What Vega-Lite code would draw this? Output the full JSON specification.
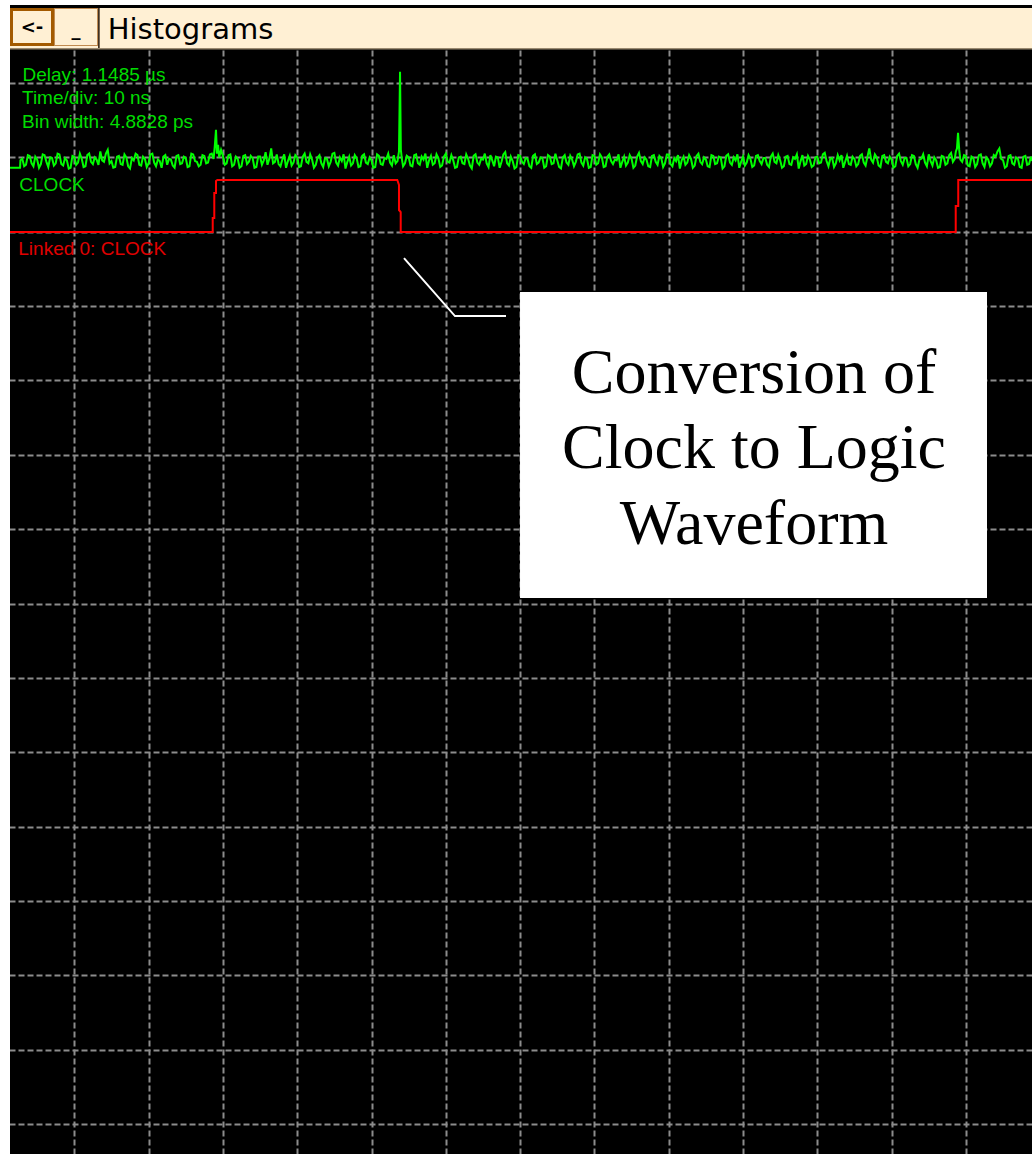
{
  "$schema": "https://vega.github.io/schema/vega-lite/v6.json",
  "width": 1032,
  "height": 1154,
  "autosize": {"type": "none"},
  "padding": 0,
  "background": "#ffffff",
  "config": {"view": {"fill": "#000000", "stroke": null}},
  "datasets": {
    "chrome": [
      {"part": "margin", "t": 0, "t2": 1.346, "v": -0.1162, "v2": 15.4026},
      {"part": "top", "t": 0, "t2": 138.896, "v": -0.1162, "v2": -0.049},
      {"part": "edge", "t": 1.346, "t2": 138.896, "v": -0.049, "v2": -0.0086},
      {"part": "bar", "t": 1.346, "t2": 138.896, "v": -0.0086, "v2": 0.5293},
      {"part": "barline", "t": 1.346, "t2": 138.896, "v": 0.5293, "v2": 0.5495},
      {"part": "btn1", "t": 1.346, "t2": 7.268, "v": -0.0086, "v2": 0.502},
      {"part": "btn1face", "t": 1.75, "t2": 6.864, "v": 0.0317, "v2": 0.462},
      {"part": "btn2", "t": 7.268, "t2": 13.19, "v": -0.0086, "v2": 0.502},
      {"part": "btn2face", "t": 7.4, "t2": 13.06, "v": 0.0048, "v2": 0.489},
      {"part": "sep", "t": 13.19, "t2": 13.42, "v": -0.0086, "v2": 0.5293}
    ],
    "green": [
      {"t": 1.35, "v": 2.14}, {"t": 2.7, "v": 2.14}, {"t": 2.75, "v": 2.04},
      {"t": 3, "v": 2.02}, {"t": 3.25, "v": 2.12}, {"t": 3.5, "v": 2.10}, {"t": 3.75, "v": 1.97}, {"t": 4, "v": 1.98}, {"t": 4.25, "v": 2.08}, {"t": 4.5, "v": 2.12}, {"t": 4.75, "v": 1.99}, {"t": 5, "v": 2.03}, {"t": 5.25, "v": 2.14}, {"t": 5.5, "v": 2.09}, {"t": 5.75, "v": 1.96}, {"t": 6, "v": 1.97}, {"t": 6.25, "v": 2.06}, {"t": 6.5, "v": 2.13}, {"t": 6.75, "v": 2.00}, {"t": 7, "v": 2.01}, {"t": 7.25, "v": 2.11}, {"t": 7.5, "v": 2.08}, {"t": 7.75, "v": 1.95},
      {"t": 8, "v": 1.96}, {"t": 8.25, "v": 2.09}, {"t": 8.5, "v": 2.11}, {"t": 8.75, "v": 2.01}, {"t": 9, "v": 2.04}, {"t": 9.25, "v": 2.15}, {"t": 9.5, "v": 2.14}, {"t": 9.75, "v": 1.98}, {"t": 10, "v": 1.99}, {"t": 10.25, "v": 2.10}, {"t": 10.5, "v": 2.07}, {"t": 10.75, "v": 1.95}, {"t": 11, "v": 2.02}, {"t": 11.25, "v": 2.13}, {"t": 11.5, "v": 2.12}, {"t": 11.75, "v": 1.97}, {"t": 12, "v": 1.95}, {"t": 12.25, "v": 2.06}, {"t": 12.5, "v": 2.09}, {"t": 12.75, "v": 2.00},
      {"t": 13, "v": 2.03}, {"t": 13.25, "v": 2.10}, {"t": 13.5, "v": 1.92}, {"t": 13.75, "v": 2.04}, {"t": 14, "v": 2.06}, {"t": 14.25, "v": 1.95}, {"t": 14.5, "v": 1.90}, {"t": 14.75, "v": 2.08}, {"t": 15, "v": 2.05}, {"t": 15.25, "v": 2.14}, {"t": 15.5, "v": 2.13}, {"t": 15.75, "v": 1.99}, {"t": 16, "v": 1.98}, {"t": 16.25, "v": 2.09}, {"t": 16.5, "v": 2.10}, {"t": 16.75, "v": 1.96}, {"t": 17, "v": 2.00}, {"t": 17.25, "v": 2.12}, {"t": 17.5, "v": 2.15}, {"t": 17.75, "v": 2.01},
      {"t": 18, "v": 2.04}, {"t": 18.25, "v": 1.95}, {"t": 18.5, "v": 1.97}, {"t": 18.75, "v": 2.10}, {"t": 19, "v": 2.11}, {"t": 19.25, "v": 1.99}, {"t": 19.5, "v": 2.02}, {"t": 19.75, "v": 2.13}, {"t": 20, "v": 2.08}, {"t": 20.25, "v": 1.96}, {"t": 20.5, "v": 1.95}, {"t": 20.75, "v": 2.07}, {"t": 21, "v": 2.12}, {"t": 21.25, "v": 2.03}, {"t": 21.5, "v": 2.05}, {"t": 21.75, "v": 2.14}, {"t": 22, "v": 1.99}, {"t": 22.25, "v": 1.97}, {"t": 22.5, "v": 2.10}, {"t": 22.75, "v": 2.02},
      {"t": 23, "v": 2.03}, {"t": 23.25, "v": 2.11}, {"t": 23.5, "v": 2.14}, {"t": 23.75, "v": 1.98}, {"t": 24, "v": 1.97}, {"t": 24.25, "v": 2.09}, {"t": 24.5, "v": 2.08}, {"t": 24.75, "v": 1.99}, {"t": 25, "v": 2.01}, {"t": 25.25, "v": 2.13}, {"t": 25.5, "v": 2.12}, {"t": 25.75, "v": 1.95}, {"t": 26, "v": 1.96}, {"t": 26.25, "v": 2.05}, {"t": 26.5, "v": 2.06}, {"t": 26.75, "v": 2.12}, {"t": 27, "v": 2.10}, {"t": 27.25, "v": 1.97}, {"t": 27.5, "v": 1.98}, {"t": 27.75, "v": 2.08},
      {"t": 28, "v": 2.07}, {"t": 28.25, "v": 1.96}, {"t": 28.5, "v": 1.95}, {"t": 28.75, "v": 2.02}, {"t": 28.9, "v": 1.86}, {"t": 29.07, "v": 1.63}, {"t": 29.2, "v": 1.95}, {"t": 29.35, "v": 1.83}, {"t": 29.5, "v": 2.00}, {"t": 29.75, "v": 1.90}, {"t": 30, "v": 1.98}, {"t": 30.25, "v": 2.10}, {"t": 30.5, "v": 2.08}, {"t": 30.75, "v": 1.97}, {"t": 31, "v": 1.96}, {"t": 31.25, "v": 2.12}, {"t": 31.5, "v": 2.10}, {"t": 31.75, "v": 1.99}, {"t": 32, "v": 2.02}, {"t": 32.25, "v": 2.14}, {"t": 32.5, "v": 2.12}, {"t": 32.75, "v": 1.98},
      {"t": 33, "v": 1.97}, {"t": 33.25, "v": 2.09}, {"t": 33.5, "v": 2.06}, {"t": 33.75, "v": 1.98}, {"t": 34, "v": 2.01}, {"t": 34.25, "v": 2.14}, {"t": 34.5, "v": 2.13}, {"t": 34.75, "v": 1.99}, {"t": 35, "v": 1.99}, {"t": 35.25, "v": 2.10}, {"t": 35.5, "v": 2.04}, {"t": 35.75, "v": 1.93}, {"t": 36, "v": 2.10}, {"t": 36.25, "v": 2.02}, {"t": 36.5, "v": 1.88}, {"t": 36.75, "v": 2.08}, {"t": 37, "v": 2.06}, {"t": 37.25, "v": 1.96}, {"t": 37.5, "v": 2.09}, {"t": 37.75, "v": 2.12},
      {"t": 38, "v": 2.03}, {"t": 38.25, "v": 1.96}, {"t": 38.5, "v": 2.14}, {"t": 38.75, "v": 2.05}, {"t": 39, "v": 1.98}, {"t": 39.25, "v": 2.11}, {"t": 39.5, "v": 2.07}, {"t": 39.75, "v": 1.97}, {"t": 40, "v": 2.00}, {"t": 40.25, "v": 2.13}, {"t": 40.5, "v": 2.12}, {"t": 40.75, "v": 1.99}, {"t": 41, "v": 1.95}, {"t": 41.25, "v": 2.06}, {"t": 41.5, "v": 2.08}, {"t": 41.75, "v": 1.96}, {"t": 42, "v": 2.03}, {"t": 42.25, "v": 2.14}, {"t": 42.5, "v": 2.10}, {"t": 42.75, "v": 2.00},
      {"t": 43, "v": 1.97}, {"t": 43.25, "v": 2.08}, {"t": 43.5, "v": 2.13}, {"t": 43.75, "v": 2.01}, {"t": 44, "v": 2.02}, {"t": 44.25, "v": 2.12}, {"t": 44.5, "v": 2.06}, {"t": 44.75, "v": 1.95}, {"t": 45, "v": 1.94}, {"t": 45.25, "v": 2.07}, {"t": 45.5, "v": 2.11}, {"t": 45.75, "v": 2.00}, {"t": 46, "v": 2.05}, {"t": 46.25, "v": 1.96}, {"t": 46.5, "v": 2.15}, {"t": 46.75, "v": 2.06}, {"t": 47, "v": 1.99}, {"t": 47.25, "v": 2.11}, {"t": 47.5, "v": 2.08}, {"t": 47.75, "v": 1.97},
      {"t": 48, "v": 2.01}, {"t": 48.25, "v": 2.13}, {"t": 48.5, "v": 2.12}, {"t": 48.75, "v": 1.98}, {"t": 49, "v": 1.96}, {"t": 49.25, "v": 2.07}, {"t": 49.5, "v": 2.09}, {"t": 49.75, "v": 2.00}, {"t": 50, "v": 2.04}, {"t": 50.25, "v": 2.14}, {"t": 50.5, "v": 2.13}, {"t": 50.75, "v": 1.96}, {"t": 51, "v": 1.98}, {"t": 51.25, "v": 2.09}, {"t": 51.5, "v": 2.10}, {"t": 51.75, "v": 2.01}, {"t": 52, "v": 2.02}, {"t": 52.25, "v": 1.95}, {"t": 52.5, "v": 2.07}, {"t": 52.75, "v": 2.11},
      {"t": 53, "v": 1.97}, {"t": 53.25, "v": 2.08}, {"t": 53.5, "v": 2.05}, {"t": 53.7, "v": 1.92}, {"t": 53.84, "v": 0.85}, {"t": 53.95, "v": 1.90}, {"t": 54.1, "v": 2.03}, {"t": 54.25, "v": 2.12}, {"t": 54.5, "v": 2.08}, {"t": 54.75, "v": 1.98}, {"t": 55, "v": 2.00}, {"t": 55.25, "v": 2.11}, {"t": 55.5, "v": 2.12}, {"t": 55.75, "v": 1.97}, {"t": 56, "v": 1.96}, {"t": 56.25, "v": 2.08}, {"t": 56.5, "v": 2.10}, {"t": 56.75, "v": 1.99}, {"t": 57, "v": 2.03}, {"t": 57.25, "v": 1.95}, {"t": 57.5, "v": 2.14}, {"t": 57.75, "v": 2.04},
      {"t": 58, "v": 1.98}, {"t": 58.25, "v": 2.10}, {"t": 58.5, "v": 2.08}, {"t": 58.75, "v": 1.96}, {"t": 59, "v": 2.01}, {"t": 59.25, "v": 2.13}, {"t": 59.5, "v": 2.11}, {"t": 59.75, "v": 1.99}, {"t": 60, "v": 1.95}, {"t": 60.25, "v": 2.06}, {"t": 60.5, "v": 2.07}, {"t": 60.75, "v": 1.97}, {"t": 61, "v": 2.04}, {"t": 61.25, "v": 2.14}, {"t": 61.5, "v": 2.13}, {"t": 61.75, "v": 2.00}, {"t": 62, "v": 1.99}, {"t": 62.25, "v": 2.08}, {"t": 62.5, "v": 2.09}, {"t": 62.75, "v": 1.96},
      {"t": 63, "v": 2.02}, {"t": 63.25, "v": 2.11}, {"t": 63.5, "v": 2.15}, {"t": 63.75, "v": 1.98}, {"t": 64, "v": 1.96}, {"t": 64.25, "v": 2.07}, {"t": 64.5, "v": 2.10}, {"t": 64.75, "v": 2.02}, {"t": 65, "v": 2.03}, {"t": 65.25, "v": 1.95}, {"t": 65.5, "v": 2.08}, {"t": 65.75, "v": 2.13}, {"t": 66, "v": 1.97}, {"t": 66.25, "v": 2.04}, {"t": 66.5, "v": 2.12}, {"t": 66.75, "v": 1.99}, {"t": 67, "v": 2.00}, {"t": 67.25, "v": 2.14}, {"t": 67.5, "v": 2.06}, {"t": 67.75, "v": 1.96},
      {"t": 68, "v": 1.93}, {"t": 68.25, "v": 2.08}, {"t": 68.5, "v": 2.11}, {"t": 68.75, "v": 1.99}, {"t": 69, "v": 2.05}, {"t": 69.25, "v": 2.15}, {"t": 69.5, "v": 2.13}, {"t": 69.75, "v": 1.97}, {"t": 70, "v": 1.98}, {"t": 70.25, "v": 2.06}, {"t": 70.5, "v": 2.09}, {"t": 70.75, "v": 2.01}, {"t": 71, "v": 2.02}, {"t": 71.25, "v": 2.12}, {"t": 71.5, "v": 2.14}, {"t": 71.75, "v": 1.98}, {"t": 72, "v": 1.96}, {"t": 72.25, "v": 2.09}, {"t": 72.5, "v": 2.07}, {"t": 72.75, "v": 2.00},
      {"t": 73, "v": 2.01}, {"t": 73.25, "v": 2.14}, {"t": 73.5, "v": 2.12}, {"t": 73.75, "v": 1.97}, {"t": 74, "v": 1.99}, {"t": 74.25, "v": 2.09}, {"t": 74.5, "v": 2.08}, {"t": 74.75, "v": 1.95}, {"t": 75, "v": 2.04}, {"t": 75.25, "v": 2.13}, {"t": 75.5, "v": 2.15}, {"t": 75.75, "v": 2.00}, {"t": 76, "v": 1.97}, {"t": 76.25, "v": 2.07}, {"t": 76.5, "v": 2.10}, {"t": 76.75, "v": 1.98}, {"t": 77, "v": 2.03}, {"t": 77.25, "v": 2.12}, {"t": 77.5, "v": 2.06}, {"t": 77.75, "v": 1.96},
      {"t": 78, "v": 1.95}, {"t": 78.25, "v": 2.07}, {"t": 78.5, "v": 2.11}, {"t": 78.75, "v": 2.00}, {"t": 79, "v": 2.02}, {"t": 79.25, "v": 2.14}, {"t": 79.5, "v": 2.13}, {"t": 79.75, "v": 1.97}, {"t": 80, "v": 1.98}, {"t": 80.25, "v": 2.10}, {"t": 80.5, "v": 2.08}, {"t": 80.75, "v": 1.96}, {"t": 81, "v": 2.00}, {"t": 81.25, "v": 2.13}, {"t": 81.5, "v": 2.12}, {"t": 81.75, "v": 1.99}, {"t": 82, "v": 1.96}, {"t": 82.25, "v": 2.05}, {"t": 82.5, "v": 2.09}, {"t": 82.75, "v": 2.03},
      {"t": 83, "v": 2.04}, {"t": 83.25, "v": 1.96}, {"t": 83.5, "v": 2.14}, {"t": 83.75, "v": 2.06}, {"t": 84, "v": 1.99}, {"t": 84.25, "v": 2.11}, {"t": 84.5, "v": 2.07}, {"t": 84.75, "v": 1.97}, {"t": 85, "v": 2.02}, {"t": 85.25, "v": 2.14}, {"t": 85.5, "v": 2.11}, {"t": 85.75, "v": 1.99}, {"t": 86, "v": 1.94}, {"t": 86.25, "v": 2.05}, {"t": 86.5, "v": 2.09}, {"t": 86.75, "v": 2.00}, {"t": 87, "v": 2.03}, {"t": 87.25, "v": 2.12}, {"t": 87.5, "v": 2.13}, {"t": 87.75, "v": 1.98},
      {"t": 88, "v": 1.97}, {"t": 88.25, "v": 2.06}, {"t": 88.5, "v": 2.10}, {"t": 88.75, "v": 1.98}, {"t": 89, "v": 2.01}, {"t": 89.25, "v": 2.13}, {"t": 89.5, "v": 2.08}, {"t": 89.75, "v": 1.96}, {"t": 90, "v": 1.96}, {"t": 90.25, "v": 2.09}, {"t": 90.5, "v": 2.12}, {"t": 90.75, "v": 2.01}, {"t": 91, "v": 2.05}, {"t": 91.25, "v": 1.97}, {"t": 91.5, "v": 2.15}, {"t": 91.75, "v": 2.04}, {"t": 92, "v": 1.99}, {"t": 92.25, "v": 2.10}, {"t": 92.5, "v": 2.07}, {"t": 92.75, "v": 1.97},
      {"t": 93, "v": 2.02}, {"t": 93.25, "v": 2.14}, {"t": 93.5, "v": 2.11}, {"t": 93.75, "v": 1.98}, {"t": 94, "v": 1.95}, {"t": 94.25, "v": 2.06}, {"t": 94.5, "v": 2.09}, {"t": 94.75, "v": 2.00}, {"t": 95, "v": 2.03}, {"t": 95.25, "v": 2.12}, {"t": 95.5, "v": 2.13}, {"t": 95.75, "v": 1.97}, {"t": 96, "v": 1.98}, {"t": 96.25, "v": 2.09}, {"t": 96.5, "v": 2.08}, {"t": 96.75, "v": 1.99}, {"t": 97, "v": 2.00}, {"t": 97.25, "v": 2.15}, {"t": 97.5, "v": 2.12}, {"t": 97.75, "v": 1.98},
      {"t": 98, "v": 1.96}, {"t": 98.25, "v": 2.07}, {"t": 98.5, "v": 2.10}, {"t": 98.75, "v": 2.00}, {"t": 99, "v": 2.04}, {"t": 99.25, "v": 1.96}, {"t": 99.5, "v": 2.14}, {"t": 99.75, "v": 2.06}, {"t": 100, "v": 1.99}, {"t": 100.25, "v": 2.11}, {"t": 100.5, "v": 2.07}, {"t": 100.75, "v": 1.97}, {"t": 101, "v": 2.02}, {"t": 101.25, "v": 2.13}, {"t": 101.5, "v": 2.11}, {"t": 101.75, "v": 1.98}, {"t": 102, "v": 1.97}, {"t": 102.25, "v": 2.05}, {"t": 102.5, "v": 2.09}, {"t": 102.75, "v": 2.01},
      {"t": 103, "v": 2.01}, {"t": 103.25, "v": 2.10}, {"t": 103.5, "v": 2.13}, {"t": 103.75, "v": 1.99}, {"t": 104, "v": 1.95}, {"t": 104.25, "v": 2.06}, {"t": 104.5, "v": 2.08}, {"t": 104.75, "v": 1.97}, {"t": 105, "v": 2.04}, {"t": 105.25, "v": 2.14}, {"t": 105.5, "v": 2.12}, {"t": 105.75, "v": 1.99}, {"t": 106, "v": 1.98}, {"t": 106.25, "v": 2.09}, {"t": 106.5, "v": 2.10}, {"t": 106.75, "v": 2.00}, {"t": 107, "v": 2.02}, {"t": 107.25, "v": 1.96}, {"t": 107.5, "v": 2.15}, {"t": 107.75, "v": 2.05},
      {"t": 108, "v": 1.97}, {"t": 108.25, "v": 2.11}, {"t": 108.5, "v": 2.09}, {"t": 108.75, "v": 1.98}, {"t": 109, "v": 2.03}, {"t": 109.25, "v": 2.13}, {"t": 109.5, "v": 2.11}, {"t": 109.75, "v": 2.00}, {"t": 110, "v": 1.99}, {"t": 110.25, "v": 2.08}, {"t": 110.5, "v": 2.07}, {"t": 110.75, "v": 1.96}, {"t": 111, "v": 1.94}, {"t": 111.25, "v": 2.05}, {"t": 111.5, "v": 2.12}, {"t": 111.75, "v": 2.02}, {"t": 112, "v": 2.01}, {"t": 112.25, "v": 2.13}, {"t": 112.5, "v": 2.08}, {"t": 112.75, "v": 1.97},
      {"t": 113, "v": 2.04}, {"t": 113.25, "v": 1.97}, {"t": 113.5, "v": 2.14}, {"t": 113.75, "v": 2.06}, {"t": 114, "v": 1.98}, {"t": 114.25, "v": 2.09}, {"t": 114.5, "v": 2.10}, {"t": 114.75, "v": 1.99}, {"t": 115, "v": 2.02}, {"t": 115.25, "v": 2.12}, {"t": 115.5, "v": 2.09}, {"t": 115.75, "v": 1.98}, {"t": 116, "v": 1.96}, {"t": 116.25, "v": 2.07}, {"t": 116.5, "v": 2.11}, {"t": 116.75, "v": 1.99}, {"t": 117, "v": 1.88}, {"t": 117.25, "v": 2.03}, {"t": 117.5, "v": 2.07}, {"t": 117.75, "v": 1.96},
      {"t": 118, "v": 2.00}, {"t": 118.25, "v": 2.11}, {"t": 118.5, "v": 2.13}, {"t": 118.75, "v": 1.98}, {"t": 119, "v": 1.97}, {"t": 119.25, "v": 2.06}, {"t": 119.5, "v": 2.08}, {"t": 119.75, "v": 1.99}, {"t": 120, "v": 2.03}, {"t": 120.25, "v": 2.14}, {"t": 120.5, "v": 2.12}, {"t": 120.75, "v": 1.98}, {"t": 121, "v": 1.95}, {"t": 121.25, "v": 2.05}, {"t": 121.5, "v": 2.10}, {"t": 121.75, "v": 2.01}, {"t": 122, "v": 2.01}, {"t": 122.25, "v": 2.12}, {"t": 122.5, "v": 2.09}, {"t": 122.75, "v": 1.97},
      {"t": 123, "v": 1.98}, {"t": 123.25, "v": 2.09}, {"t": 123.5, "v": 2.14}, {"t": 123.75, "v": 2.03}, {"t": 124, "v": 2.02}, {"t": 124.25, "v": 1.96}, {"t": 124.5, "v": 2.07}, {"t": 124.75, "v": 2.12}, {"t": 125, "v": 1.96}, {"t": 125.25, "v": 2.05}, {"t": 125.5, "v": 2.11}, {"t": 125.75, "v": 2.00}, {"t": 126, "v": 2.04}, {"t": 126.25, "v": 2.14}, {"t": 126.5, "v": 2.13}, {"t": 126.75, "v": 1.98}, {"t": 127, "v": 1.99}, {"t": 127.25, "v": 2.10}, {"t": 127.5, "v": 2.08}, {"t": 127.75, "v": 1.97},
      {"t": 128, "v": 1.94}, {"t": 128.25, "v": 2.06}, {"t": 128.5, "v": 2.02}, {"t": 128.65, "v": 1.92}, {"t": 128.8, "v": 1.88}, {"t": 128.94, "v": 1.67}, {"t": 129.1, "v": 1.90}, {"t": 129.25, "v": 2.03}, {"t": 129.5, "v": 2.06}, {"t": 129.75, "v": 1.97}, {"t": 130, "v": 1.98}, {"t": 130.25, "v": 2.11}, {"t": 130.5, "v": 2.12}, {"t": 130.75, "v": 1.99}, {"t": 131, "v": 2.01}, {"t": 131.25, "v": 2.13}, {"t": 131.5, "v": 2.09}, {"t": 131.75, "v": 1.97}, {"t": 132, "v": 1.96}, {"t": 132.25, "v": 2.08}, {"t": 132.5, "v": 2.13}, {"t": 132.75, "v": 2.00},
      {"t": 133, "v": 2.03}, {"t": 133.25, "v": 2.12}, {"t": 133.5, "v": 2.08}, {"t": 133.75, "v": 1.97}, {"t": 134, "v": 1.99}, {"t": 134.25, "v": 1.92}, {"t": 134.5, "v": 1.88}, {"t": 134.75, "v": 2.02}, {"t": 135, "v": 2.04}, {"t": 135.25, "v": 2.14}, {"t": 135.5, "v": 2.12}, {"t": 135.75, "v": 1.98}, {"t": 136, "v": 1.97}, {"t": 136.25, "v": 2.08}, {"t": 136.5, "v": 2.10}, {"t": 136.75, "v": 2.00}, {"t": 137, "v": 2.02}, {"t": 137.25, "v": 2.13}, {"t": 137.5, "v": 2.14}, {"t": 137.75, "v": 1.99},
      {"t": 138, "v": 1.98}, {"t": 138.25, "v": 2.10}, {"t": 138.5, "v": 2.09}, {"t": 138.75, "v": 1.99}, {"t": 138.896, "v": 2.05}
    ],
    "red": [
      {"i": 0, "t": 1.35, "v": 3.004}, {"i": 1, "t": 28.63, "v": 3.004}, {"i": 2, "t": 28.63, "v": 2.815}, {"i": 3, "t": 28.84, "v": 2.815},
      {"i": 4, "t": 28.84, "v": 2.479}, {"i": 5, "t": 29.07, "v": 2.479}, {"i": 6, "t": 29.07, "v": 2.318}, {"i": 7, "t": 29.25, "v": 2.305},
      {"i": 8, "t": 53.47, "v": 2.305}, {"i": 9, "t": 53.7, "v": 2.372}, {"i": 10, "t": 53.7, "v": 2.708}, {"i": 11, "t": 53.93, "v": 2.735},
      {"i": 12, "t": 53.93, "v": 3.004}, {"i": 13, "t": 128.63, "v": 3.004}, {"i": 14, "t": 128.63, "v": 2.654}, {"i": 15, "t": 128.97, "v": 2.654},
      {"i": 16, "t": 128.97, "v": 2.305}, {"i": 17, "t": 138.896, "v": 2.305}
    ],
    "greenText": [
      {"t": 3.03, "v": 0.973, "text": "Delay: 1.1485 µs"},
      {"t": 2.96, "v": 1.289, "text": "Time/div: 10 ns"},
      {"t": 2.96, "v": 1.605, "text": "Bin width: 4.8828 ps"},
      {"t": 2.6, "v": 2.452, "text": "CLOCK"}
    ],
    "redText": [
      {"t": 2.46, "v": 3.313, "text": "Linked 0: CLOCK"}
    ],
    "title": [
      {"t": 14.5, "v": 0.408, "text": "Histograms"}
    ],
    "buttons": [
      {"t": 4.3, "v": 0.33, "text": "<-"},
      {"t": 10.23, "v": 0.37, "text": "_"}
    ],
    "box": [
      {"t": 69.99, "t2": 132.84, "v": 3.811, "v2": 7.926}
    ],
    "connector": [
      {"i": 0, "t": 54.37, "v": 3.354},
      {"i": 1, "t": 61.24, "v": 4.134},
      {"i": 2, "t": 68.1, "v": 4.134}
    ],
    "note": [
      {"t": 101.48, "v": 5.169, "text": "Conversion of"},
      {"t": 101.48, "v": 6.178, "text": "Clock to Logic"},
      {"t": 101.48, "v": 7.2, "text": "Waveform"}
    ]
  },
  "layer": [
    {
      "data": {"name": "chrome"},
      "mark": {"type": "rect"},
      "encoding": {
        "x": {
          "field": "t", "type": "quantitative",
          "scale": {"domain": [0, 138.896], "nice": false, "zero": false},
          "axis": {"values": [10, 20, 30, 40, 50, 60, 70, 80, 90, 100, 110, 120, 130], "grid": true, "labels": false, "ticks": false, "domain": false, "title": null, "gridColor": "#8c8c8c", "gridDash": [6, 3], "gridWidth": 2, "gridOpacity": 1}
        },
        "x2": {"field": "t2"},
        "y": {
          "field": "v", "type": "quantitative",
          "scale": {"domain": [-0.1162, 15.4026], "nice": false, "zero": false, "reverse": true},
          "axis": {"values": [1, 2, 3, 4, 5, 6, 7, 8, 9, 10, 11, 12, 13, 14, 15], "grid": true, "labels": false, "ticks": false, "domain": false, "title": null, "gridColor": "#8c8c8c", "gridDash": [6, 3], "gridWidth": 2, "gridOpacity": 1}
        },
        "y2": {"field": "v2"},
        "color": {
          "field": "part", "type": "nominal", "legend": null,
          "scale": {
            "domain": ["margin", "top", "edge", "bar", "barline", "btn1", "btn1face", "btn2", "btn2face", "sep"],
            "range": ["#ffffff", "#ffffff", "#000000", "#fff0d4", "#9a8a70", "#a35a00", "#fff0d4", "#c08a50", "#fff0d4", "#403020"]
          }
        }
      }
    },
    {
      "data": {"name": "green"},
      "mark": {"type": "line", "color": "#00ff00", "strokeWidth": 2},
      "encoding": {
        "x": {"field": "t", "type": "quantitative"},
        "y": {"field": "v", "type": "quantitative"}
      }
    },
    {
      "data": {"name": "red"},
      "mark": {"type": "line", "color": "#ff0000", "strokeWidth": 2},
      "encoding": {
        "x": {"field": "t", "type": "quantitative"},
        "y": {"field": "v", "type": "quantitative"},
        "order": {"field": "i", "type": "quantitative"}
      }
    },
    {
      "data": {"name": "greenText"},
      "mark": {"type": "text", "color": "#00dc00", "font": "Liberation Sans", "fontSize": 19, "align": "left", "baseline": "alphabetic"},
      "encoding": {
        "x": {"field": "t", "type": "quantitative"},
        "y": {"field": "v", "type": "quantitative"},
        "text": {"field": "text"}
      }
    },
    {
      "data": {"name": "redText"},
      "mark": {"type": "text", "color": "#e00000", "font": "Liberation Sans", "fontSize": 19, "align": "left", "baseline": "alphabetic"},
      "encoding": {
        "x": {"field": "t", "type": "quantitative"},
        "y": {"field": "v", "type": "quantitative"},
        "text": {"field": "text"}
      }
    },
    {
      "data": {"name": "title"},
      "mark": {"type": "text", "color": "#000000", "font": "DejaVu Sans", "fontSize": 29, "align": "left", "baseline": "alphabetic"},
      "encoding": {
        "x": {"field": "t", "type": "quantitative"},
        "y": {"field": "v", "type": "quantitative"},
        "text": {"field": "text"}
      }
    },
    {
      "data": {"name": "buttons"},
      "mark": {"type": "text", "color": "#000000", "font": "DejaVu Sans", "fontSize": 18, "fontWeight": "bold", "align": "center", "baseline": "alphabetic"},
      "encoding": {
        "x": {"field": "t", "type": "quantitative"},
        "y": {"field": "v", "type": "quantitative"},
        "text": {"field": "text"}
      }
    },
    {
      "data": {"name": "box"},
      "mark": {"type": "rect", "color": "#ffffff"},
      "encoding": {
        "x": {"field": "t", "type": "quantitative"},
        "x2": {"field": "t2"},
        "y": {"field": "v", "type": "quantitative"},
        "y2": {"field": "v2"}
      }
    },
    {
      "data": {"name": "connector"},
      "mark": {"type": "line", "color": "#ffffff", "strokeWidth": 2},
      "encoding": {
        "x": {"field": "t", "type": "quantitative"},
        "y": {"field": "v", "type": "quantitative"},
        "order": {"field": "i", "type": "quantitative"}
      }
    },
    {
      "data": {"name": "note"},
      "mark": {"type": "text", "color": "#000000", "font": "Liberation Serif", "fontSize": 64, "align": "center", "baseline": "alphabetic"},
      "encoding": {
        "x": {"field": "t", "type": "quantitative"},
        "y": {"field": "v", "type": "quantitative"},
        "text": {"field": "text"}
      }
    }
  ]
}
